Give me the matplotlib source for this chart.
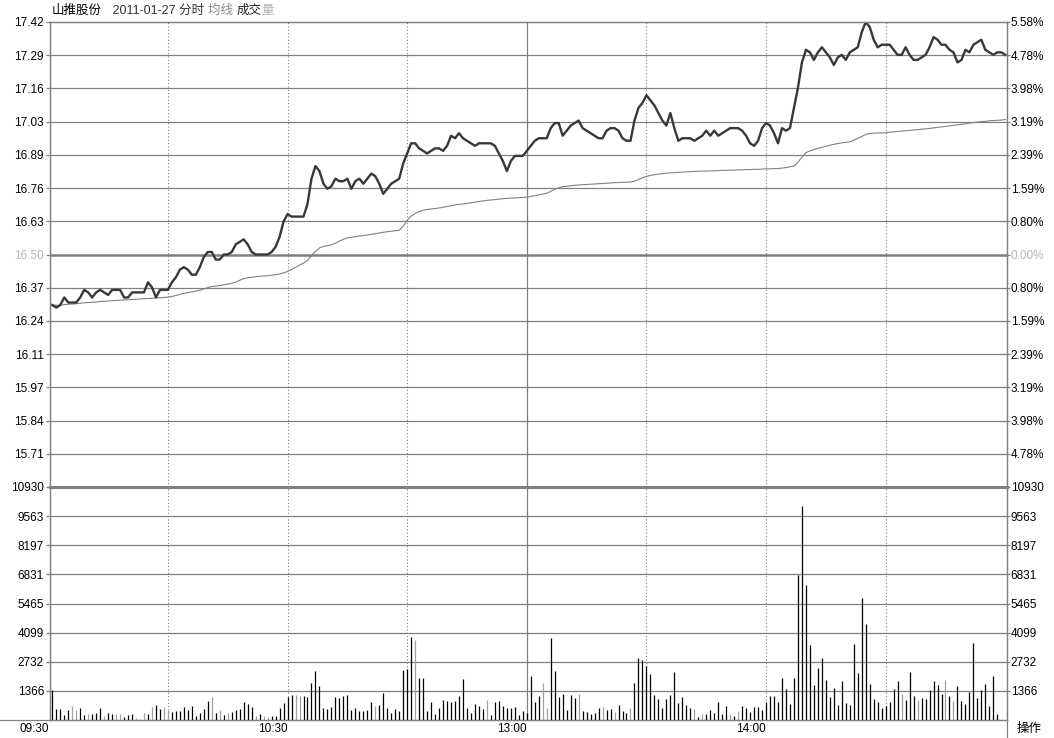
import matplotlib
matplotlib.use("Agg")
import matplotlib.pyplot as plt
import numpy as np
from matplotlib.lines import Line2D
from matplotlib.transforms import blended_transform_factory

plt.rcParams['font.family'] = ['Liberation Sans', 'Noto Sans CJK SC']
plt.rcParams['font.size'] = 8.5

### Data (one value per trading minute, 09:31 .. 15:00)

stock_name = "山推股份"
trade_date = "2011-01-27"
prev_close = 16.50

price = [
    16.30, 16.29, 16.30, 16.33, 16.31, 16.31, 16.31, 16.33, 16.36, 16.35,
    16.33, 16.35, 16.36, 16.35, 16.34, 16.36, 16.36, 16.36, 16.33, 16.33,
    16.35, 16.35, 16.35, 16.35, 16.39, 16.37, 16.33, 16.36, 16.36, 16.36,
    16.39, 16.41, 16.44, 16.45, 16.44, 16.42, 16.42, 16.45, 16.49, 16.51,
    16.51, 16.48, 16.48, 16.50, 16.50, 16.51, 16.54, 16.55, 16.56, 16.54,
    16.51, 16.50, 16.50, 16.50, 16.50, 16.51, 16.53, 16.57, 16.63, 16.66,
    16.65, 16.65, 16.65, 16.65, 16.70, 16.80, 16.85, 16.83, 16.78, 16.76,
    16.77, 16.80, 16.79, 16.79, 16.80, 16.76, 16.79, 16.80, 16.78, 16.80,
    16.82, 16.81, 16.78, 16.74, 16.76, 16.78, 16.79, 16.80, 16.86, 16.90,
    16.94, 16.94, 16.92, 16.91, 16.90, 16.91, 16.92, 16.92, 16.91, 16.93,
    16.97, 16.96, 16.98, 16.96, 16.95, 16.94, 16.93, 16.94, 16.94, 16.94,
    16.94, 16.93, 16.90, 16.87, 16.83, 16.87, 16.89, 16.89, 16.89, 16.91,
    16.93, 16.95, 16.96, 16.96, 16.96, 17.00, 17.02, 17.02, 16.97, 16.99,
    17.01, 17.02, 17.03, 17.00, 16.99, 16.98, 16.97, 16.96, 16.96, 16.99,
    17.00, 17.00, 16.99, 16.96, 16.95, 16.95, 17.03, 17.08, 17.10, 17.13,
    17.11, 17.09, 17.06, 17.03, 17.01, 17.06, 17.00, 16.95, 16.96, 16.96,
    16.96, 16.95, 16.96, 16.97, 16.99, 16.97, 16.99, 16.97, 16.98, 16.99,
    17.00, 17.00, 17.00, 16.99, 16.97, 16.94, 16.93, 16.95, 17.00, 17.02,
    17.01, 16.98, 16.94, 17.00, 16.99, 17.00, 17.08, 17.16, 17.26, 17.31,
    17.30, 17.27, 17.30, 17.32, 17.30, 17.28, 17.25, 17.28, 17.29, 17.27,
    17.30, 17.31, 17.32, 17.38, 17.42, 17.40, 17.35, 17.32, 17.33, 17.33,
    17.33, 17.31, 17.29, 17.29, 17.32, 17.29, 17.27, 17.27, 17.28, 17.29,
    17.32, 17.36, 17.35, 17.33, 17.33, 17.31, 17.30, 17.26, 17.27, 17.31,
    17.30, 17.33, 17.34, 17.35, 17.31, 17.30, 17.29, 17.30, 17.30, 17.29,
]

avg_price = [
    16.300, 16.299, 16.299, 16.302, 16.303, 16.304, 16.305, 16.307, 16.309, 16.310,
    16.311, 16.312, 16.314, 16.315, 16.316, 16.317, 16.318, 16.319, 16.320, 16.321,
    16.322, 16.323, 16.324, 16.325, 16.326, 16.327, 16.328, 16.329, 16.330, 16.331,
    16.334, 16.338, 16.342, 16.346, 16.349, 16.352, 16.355, 16.358, 16.364, 16.369,
    16.373, 16.375, 16.377, 16.380, 16.383, 16.386, 16.391, 16.398, 16.404, 16.408,
    16.410, 16.412, 16.414, 16.415, 16.416, 16.418, 16.420, 16.423, 16.427, 16.433,
    16.441, 16.449, 16.458, 16.466, 16.476, 16.496, 16.512, 16.526, 16.532, 16.535,
    16.538, 16.545, 16.553, 16.560, 16.566, 16.568, 16.570, 16.573, 16.575, 16.577,
    16.580, 16.582, 16.585, 16.588, 16.590, 16.592, 16.594, 16.596, 16.612, 16.635,
    16.652, 16.662, 16.670, 16.675, 16.678, 16.680, 16.682, 16.684, 16.687, 16.690,
    16.693, 16.696, 16.698, 16.700, 16.702, 16.705, 16.707, 16.710, 16.712, 16.714,
    16.716, 16.717, 16.719, 16.721, 16.722, 16.723, 16.724, 16.725, 16.726, 16.727,
    16.730, 16.733, 16.736, 16.739, 16.742, 16.750, 16.758, 16.764, 16.768, 16.770,
    16.772, 16.774, 16.775, 16.776, 16.777, 16.778, 16.779, 16.780, 16.781, 16.782,
    16.783, 16.784, 16.785, 16.786, 16.786, 16.787, 16.790, 16.797, 16.804, 16.809,
    16.813, 16.816, 16.818, 16.820, 16.822, 16.823, 16.824, 16.825, 16.826, 16.827,
    16.828, 16.829, 16.829, 16.830, 16.830, 16.831, 16.831, 16.832, 16.833, 16.833,
    16.834, 16.834, 16.835, 16.835, 16.836, 16.836, 16.837, 16.837, 16.838, 16.839,
    16.839, 16.840, 16.840, 16.842, 16.844, 16.847, 16.850, 16.865, 16.885, 16.903,
    16.910, 16.915, 16.920, 16.924, 16.928, 16.932, 16.936, 16.939, 16.942, 16.944,
    16.946, 16.952, 16.960, 16.967, 16.975, 16.979, 16.980, 16.981, 16.981, 16.982,
    16.984, 16.985, 16.987, 16.988, 16.990, 16.991, 16.993, 16.994, 16.996, 16.997,
    16.999, 17.001, 17.003, 17.005, 17.007, 17.009, 17.011, 17.013, 17.015, 17.017,
    17.020, 17.022, 17.024, 17.026, 17.027, 17.029, 17.030, 17.031, 17.032, 17.034,
]

volume = [
    1400, 520, 520, 240, 470, 660, 470, 560, 240, 280,
    280, 330, 560, 190, 330, 280, 280, 280, 140, 240,
    280, 100, 50, 330, 280, 610, 700, 520, 610, 470,
    380, 420, 420, 610, 470, 660, 190, 330, 520, 900,
    1080, 330, 470, 240, 330, 380, 470, 520, 850, 750,
    610, 190, 280, 190, 140, 190, 190, 560, 800, 1080,
    1180, 1180, 1130, 1130, 1080, 1740, 2310, 1600, 560, 520,
    610, 1080, 1040, 1130, 1180, 470, 560, 420, 420, 470,
    850, 660, 700, 1270, 560, 330, 520, 420, 2360, 2400,
    3900, 3770, 1980, 1980, 420, 850, 280, 560, 940, 900,
    850, 900, 1130, 1930, 560, 330, 750, 660, 520, 940,
    240, 850, 900, 660, 560, 560, 610, 240, 400, 330,
    2070, 850, 1130, 1740, 560, 3860, 2310, 1080, 1220, 470,
    1180, 1040, 1220, 420, 380, 280, 330, 560, 610, 470,
    520, 380, 700, 420, 330, 560, 1740, 2920, 2820, 2540,
    2160, 1180, 990, 560, 990, 1180, 2260, 800, 1080, 700,
    560, 520, 140, 280, 280, 470, 330, 850, 280, 660,
    280, 190, 420, 660, 560, 380, 610, 610, 470, 850,
    1130, 1130, 850, 1980, 1460, 750, 1980, 6810, 10020, 6340,
    3530, 1660, 2460, 2930, 1880, 1100, 1500, 700, 1830, 810,
    700, 3570, 2200, 5720, 4510, 1710, 1000, 860, 560, 670,
    860, 1460, 1830, 1240, 940, 2270, 1140, 920, 1030, 990,
    1410, 1830, 1660, 1240, 1880, 1140, 880, 1600, 910, 750,
    1330, 3630, 1050, 1410, 1710, 670, 2080, 270, 0, 0,
]

# minutes whose volume bar is drawn grey (price ticked down)
down_minutes = [6, 7, 10, 14, 17, 18, 22, 23, 24, 26, 29, 30, 41, 43, 45, 52, 54, 55,
                62, 63, 82, 92, 110, 124, 125, 133, 139, 142, 146, 162, 164, 171, 173,
                214, 218, 225, 227]

price_labels = ["17.42", "17.29", "17.16", "17.03", "16.89", "16.76", "16.63", "16.50",
                "16.37", "16.24", "16.11", "15.97", "15.84", "15.71"]
pct_labels = ["5.58%", "4.78%", "3.98%", "3.19%", "2.39%", "1.59%", "0.80%", "0.00%",
              "0.80%", "1.59%", "2.39%", "3.19%", "3.98%", "4.78%"]
vol_max = 10930
vol_labels = ["10930", "9563", "8197", "6831", "5465", "4099", "2732", "1366"]
time_labels = ["09:30", "10:30", "13:00", "14:00"]
time_label_minutes = [0.3, 60, 120, 180]

### Style

GRID = '#808080'
LIGHT = '#b4b4b4'
PRICE_C = '#383838'
AVG_C = '#808080'

W_PX, H_PX = 1054, 738
x0, x1 = 49.5, 1006.5
p_top, p_bot, v_bot = 22, 487, 720

fig = plt.figure(figsize=(W_PX / 100, H_PX / 100), dpi=100)
fig.patch.set_facecolor('white')

L = x0 / W_PX
Wd = (x1 - x0) / W_PX
ax_p = fig.add_axes([L, 1 - p_bot / H_PX, Wd, (p_bot - p_top) / H_PX])
ax_v = fig.add_axes([L, 1 - v_bot / H_PX, Wd, (v_bot - p_bot) / H_PX], sharex=ax_p)

minutes = np.arange(1, len(price) + 1)
xlim = (0.3, 240.3)

### Price panel

span = 0.92
step = span / 7
p_ticks = [prev_close + span - i * step for i in range(len(price_labels))]

ax_p.set_xlim(*xlim)
ax_p.set_ylim(prev_close - span, prev_close + span)
for y in p_ticks[1:]:
    lw = 1.8 if abs(y - prev_close) < 1e-6 else 0.9
    ax_p.axhline(y, color=GRID, lw=lw, zorder=1)

for m in [30, 60, 90, 150, 180, 210]:
    ax_p.axvline(m, color=GRID, lw=0.8, ls=(0, (1, 2)), zorder=1)
    ax_v.axvline(m, color=GRID, lw=0.8, ls=(0, (1, 2)), zorder=1)
ax_p.axvline(120, color=GRID, lw=0.9, zorder=1)
ax_v.axvline(120, color=GRID, lw=0.9, zorder=1)

ax_p.plot(minutes, avg_price, color=AVG_C, lw=0.8, zorder=3)
ax_p.plot(minutes, price, color=PRICE_C, lw=1.7, zorder=4, solid_joinstyle='round')

ax_p.set_yticks(p_ticks)
ax_p.set_yticklabels(price_labels)
ax_p.tick_params(axis='y', length=3, width=0.9, color=GRID, pad=1)
ax_p.tick_params(axis='x', bottom=False, labelbottom=False)
for lab in ax_p.get_yticklabels():
    lab.set_color(LIGHT if lab.get_text() == "16.50" else 'black')

ax_r = ax_p.twinx()
ax_r.set_ylim(ax_p.get_ylim())
ax_r.set_yticks(p_ticks)
ax_r.set_yticklabels(pct_labels)
ax_r.tick_params(axis='y', length=2, width=0.9, color=GRID, pad=1)
for i, lab in enumerate(ax_r.get_yticklabels()):
    lab.set_color(LIGHT if i == 7 else 'black')

for a in (ax_p, ax_r):
    a.spines['bottom'].set_visible(False)
    for s in ('top', 'left', 'right'):
        a.spines[s].set_color(GRID)
        a.spines[s].set_linewidth(0.9)

### Volume panel

ax_v.set_ylim(0, vol_max)
v_ticks = [vol_max * (8 - i) / 8 for i in range(len(vol_labels))]
for y in v_ticks[1:]:
    ax_v.axhline(y, color=GRID, lw=0.9, zorder=1)
ax_v.axhline(vol_max, color=GRID, lw=2.2, zorder=2, clip_on=False)

bar_colors = ['#a0a0a0' if m in down_minutes else 'black' for m in minutes]
ax_v.vlines(minutes, 0, volume, colors=bar_colors, lw=0.9, zorder=3)

ax_v.set_yticks(v_ticks)
ax_v.set_yticklabels(vol_labels)
ax_v.tick_params(axis='y', length=3, width=0.9, color=GRID, pad=1)
ax_v.tick_params(axis='x', bottom=False, labelbottom=False)

ax_v2 = ax_v.twinx()
ax_v2.set_ylim(0, vol_max)
ax_v2.set_yticks(v_ticks)
ax_v2.set_yticklabels(vol_labels)
ax_v2.tick_params(axis='y', length=2, width=0.9, color=GRID, pad=1)

for a in (ax_v, ax_v2):
    a.spines['top'].set_visible(False)
    for s in ('bottom', 'left', 'right'):
        a.spines[s].set_color(GRID)
        a.spines[s].set_linewidth(0.9)

# time labels under the axis, right-aligned to their gridline
trans = blended_transform_factory(ax_v.transData, fig.transFigure)
for lab, m in zip(time_labels, time_label_minutes):
    ax_v.text(m, 1 - 729 / H_PX, lab, transform=trans, ha='right', va='center',
              color='black')

# bottom rule to the left edge and right border down to the bottom
fig.add_artist(Line2D([0, L], [1 - v_bot / H_PX] * 2, color=GRID, lw=0.9))
fig.add_artist(Line2D([x1 / W_PX] * 2, [0, 1 - v_bot / H_PX], color=GRID, lw=0.9))
fig.text(1029 / W_PX, 1 - 729 / H_PX, "操作", ha='center', va='center', fontsize=9)

### Title line

parts = [(stock_name, 'black'), ("   " + trade_date + " 分时 ", '#333333'),
         ("均线 ", '#8a8a8a'), ("成交", '#222222'), ("量", '#b4b4b4')]
renderer = fig.canvas.get_renderer()
xpos = 52
for txt, col in parts:
    tt = fig.text(xpos / W_PX, 1 - 11 / H_PX, txt, color=col, fontsize=9,
                  ha='left', va='center')
    xpos += tt.get_window_extent(renderer=renderer).width

fig.savefig("out.png", dpi=100, facecolor='white')
